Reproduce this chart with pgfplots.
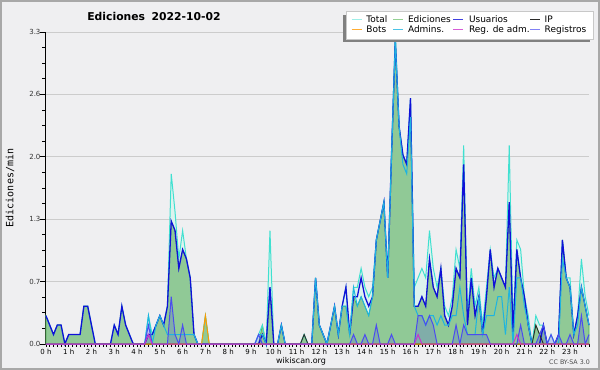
\documentclass[border=0pt]{standalone}
\usepackage{pgfplots}
\pgfplotsset{compat=1.18}
\usepackage{pgfplotstable}
\usepackage{fontspec}
\setmainfont{DejaVu Sans}
\newfontfamily\monofont{DejaVu Sans Mono}
\definecolor{bg}{HTML}{EFEFF1}
\definecolor{frame}{HTML}{A8A8A8}
\definecolor{gridc}{HTML}{CCCCCC}
\definecolor{tot}{HTML}{40E0D0}
\definecolor{totfill}{HTML}{DDF3EE}
\definecolor{edfill}{HTML}{90C996}
\definecolor{edline}{HTML}{4DB34D}
\definecolor{usr}{HTML}{1010D8}
\definecolor{ipc}{HTML}{2A2A2A}
\definecolor{bot}{HTML}{FF9900}
\definecolor{adm}{HTML}{1EB4E0}
\definecolor{radm}{HTML}{CC33CC}
\definecolor{reg}{HTML}{4B4BF0}
\definecolor{shadowc}{HTML}{808080}
\definecolor{legborder}{HTML}{C8C8C8}

\pgfplotstableread{
x T E U A R I B M
0 0.3 0.3 0.3 0 0 0 0 0
1 0.2 0.2 0.2 0 0 0 0 0
2 0.1 0.1 0.1 0 0 0 0 0
3 0.2 0.2 0.2 0 0 0 0 0
4 0.2 0.2 0.2 0 0 0 0 0
5 0 0 0 0 0 0 0 0
6 0.1 0.1 0.1 0 0 0 0 0
7 0.1 0.1 0.1 0 0 0 0 0
8 0.1 0.1 0.1 0 0 0 0 0
9 0.1 0.1 0.1 0 0 0 0 0
10 0.4 0.4 0.4 0 0 0 0 0
11 0.4 0.4 0.4 0 0 0 0 0
12 0.2 0.2 0.2 0 0 0 0 0
13 0 0 0 0 0 0 0 0
14 0 0 0 0 0 0 0 0
15 0 0 0 0 0 0 0 0
16 0 0 0 0 0 0 0 0
17 0 0 0 0 0 0 0 0
18 0.2 0.2 0.2 0 0 0 0 0
19 0.1 0.1 0.1 0 0 0 0 0
20 0.4 0.4 0.4 0 0 0 0 0
21 0.2 0.2 0.2 0 0 0 0 0
22 0.1 0.1 0.1 0 0 0 0 0
23 0 0 0 0 0 0 0 0
24 0 0 0 0 0 0 0 0
25 0 0 0 0 0 0 0 0
26 0 0 0 0 0 0 0 0
27 0.3 0.1 0.1 0.3 0.2 0 0 0.1
28 0.1 0.1 0.1 0 0 0 0 0
29 0.2 0.2 0.2 0.2 0 0 0 0
30 0.3 0.3 0.3 0.3 0 0 0 0
31 0.2 0.2 0.2 0.2 0 0 0 0
32 0.4 0.4 0.4 0.1 0 0 0 0
33 1.8 1.3 1.3 0.1 0.5 0 0 0
34 1.4 1.2 1.2 0.1 0.1 0 0 0
35 0.9 0.8 0.8 0.1 0 0 0 0
36 1.2 1.0 1.0 0.1 0.2 0 0 0
37 0.9 0.9 0.9 0.1 0 0 0 0
38 0.7 0.7 0.7 0.1 0 0 0 0
39 0.1 0.1 0.1 0.1 0 0 0 0
40 0 0 0 0 0 0 0 0
41 0 0 0 0 0 0 0 0
42 0.3 0.3 0 0 0 0 0.3 0
43 0 0 0 0 0 0 0 0
44 0 0 0 0 0 0 0 0
45 0 0 0 0 0 0 0 0
46 0 0 0 0 0 0 0 0
47 0 0 0 0 0 0 0 0
48 0 0 0 0 0 0 0 0
49 0 0 0 0 0 0 0 0
50 0 0 0 0 0 0 0 0
51 0 0 0 0 0 0 0 0
52 0 0 0 0 0 0 0 0
53 0 0 0 0 0 0 0 0
54 0 0 0 0 0 0 0 0
55 0 0 0 0 0 0 0 0
56 0.1 0 0 0.1 0.1 0 0 0
57 0.2 0.2 0.1 0.1 0 0 0 0
58 0 0 0 0 0 0 0 0
59 1.2 0.6 0.6 0 0 0 0 0
60 0 0 0 0 0 0 0 0
61 0 0 0 0 0 0 0 0
62 0.2 0.2 0.2 0.2 0 0 0 0
63 0 0 0 0 0 0 0 0
64 0 0 0 0 0 0 0 0
65 0 0 0 0 0 0 0 0
66 0 0 0 0 0 0 0 0
67 0 0 0 0 0 0 0 0
68 0.1 0.1 0 0 0 0.1 0 0
69 0 0 0 0 0 0 0 0
70 0 0 0 0 0 0 0 0
71 0.7 0.7 0.7 0.7 0 0 0 0
72 0.2 0.2 0.2 0.2 0 0 0 0
73 0.1 0.1 0.1 0.1 0 0 0 0
74 0 0 0 0 0 0 0 0
75 0.2 0.2 0.2 0.2 0 0 0 0
76 0.4 0.4 0.4 0.4 0 0 0 0
77 0.1 0.1 0.1 0.1 0 0 0 0
78 0.4 0.4 0.4 0.4 0 0 0 0
79 0.6 0.4 0.6 0.4 0 0 0 0
80 0.1 0.1 0.1 0.1 0 0 0 0
81 0.6 0.5 0.5 0.6 0.1 0 0 0
82 0.6 0.4 0.5 0.4 0 0 0 0
83 0.8 0.5 0.7 0.5 0 0 0 0
84 0.6 0.4 0.5 0.4 0.1 0 0 0
85 0.5 0.3 0.4 0.3 0 0 0 0
86 0.6 0.5 0.5 0.5 0 0 0 0
87 1.1 1.1 1.1 1.1 0.2 0 0 0
88 1.3 1.3 1.3 1.3 0 0 0 0
89 1.5 1.5 1.5 1.5 0 0 0 0
90 0.7 0.7 0.7 0.7 0 0 0 0
91 2.0 2.0 2.0 2.0 0.1 0 0 0
92 3.3 3.2 3.2 3.2 0 0 0 0
93 2.3 2.3 2.3 2.3 0 0 0 0
94 2.0 2.0 2.0 1.9 0 0 0 0
95 1.9 1.9 1.9 1.8 0 0 0 0
96 2.6 2.4 2.6 2.4 0 0 0 0
97 0.6 0.4 0.4 0.4 0 0 0 0
98 0.7 0.4 0.4 0.3 0.3 0 0 0.1
99 0.8 0.5 0.5 0.3 0.3 0 0 0
100 0.7 0.4 0.4 0.2 0.2 0 0 0
101 1.2 0.9 0.9 0.3 0.3 0 0 0
102 0.8 0.6 0.6 0.3 0.2 0 0 0
103 0.6 0.5 0.5 0.2 0 0 0 0
104 0.8 0.8 0.8 0.3 0 0 0 0
105 0.4 0.3 0.3 0.2 0 0 0 0
106 0.3 0.2 0.2 0.2 0 0 0 0
107 0.5 0.4 0.4 0.3 0 0 0 0
108 1.0 0.8 0.8 0.3 0.2 0 0 0
109 0.8 0.7 0.7 0.6 0 0 0 0
110 2.1 1.9 1.9 0.3 0.2 0 0 0
111 0.3 0.2 0.2 0.1 0.1 0 0 0
112 0.8 0.7 0.7 0.1 0.1 0 0 0
113 0.4 0.3 0.3 0.1 0.1 0 0 0
114 0.6 0.5 0.5 0.5 0.1 0 0 0
115 0.2 0.1 0.1 0.1 0.1 0 0 0
116 0.6 0.5 0.5 0.3 0.1 0 0 0
117 1.0 1.0 1.0 0.3 0 0 0 0
118 0.7 0.6 0.6 0.3 0 0 0 0
119 0.8 0.8 0.8 0.5 0 0 0 0
120 0.7 0.7 0.7 0.5 0 0 0 0
121 0.6 0.6 0.6 0.1 0 0 0 0
122 2.1 1.5 1.5 0.6 0 0 0 0
123 0.2 0.1 0.1 0 0 0 0 0
124 1.1 1.0 1.0 0.7 0 0 0 0.1
125 1.0 0.7 0.7 0.7 0.2 0 0 0
126 0.5 0.5 0.5 0.4 0 0 0 0
127 0.3 0.2 0.2 0.2 0 0 0 0
128 0 0 0 0 0 0 0 0
129 0.3 0.2 0 0 0 0.2 0 0
130 0.2 0.1 0 0 0.1 0.1 0 0
131 0.2 0.2 0.2 0 0.2 0 0 0
132 0 0 0 0 0 0 0 0
133 0.1 0 0 0 0.1 0 0 0
134 0 0 0 0 0 0 0 0
135 0.1 0.1 0.1 0 0.1 0 0 0
136 1.1 1.1 1.1 0.9 0 0 0 0
137 0.7 0.7 0.7 0.7 0 0 0 0
138 0.7 0.6 0.6 0.6 0.1 0 0 0
139 0.1 0.1 0.1 0.1 0 0 0 0
140 0.3 0.3 0.3 0.2 0 0 0 0
141 0.9 0.6 0.6 0.6 0.3 0 0 0
142 0.5 0.4 0.4 0.4 0 0 0 0
143 0.3 0.2 0.2 0.2 0.1 0 0 0
}\data

\begin{document}
\begin{tikzpicture}
\fill[bg] (0bp,0bp) rectangle (600bp,370bp);
\draw[frame, line width=2bp] (1bp,1bp) rectangle (599bp,369bp);
\useasboundingbox (0bp,0bp) rectangle (600bp,370bp);
\node[font=\bfseries\fontsize{10.8bp}{13bp}\selectfont] at (154bp,354bp) {Ediciones\hspace{0.6em}2022-10-02};
\node[rotate=90, font=\monofont\fontsize{10bp}{12bp}\selectfont] at (10bp,182bp) {Ediciones/min};
\node[font=\fontsize{8bp}{9bp}\selectfont] at (301bp,9bp) {wikiscan.org};
\node[anchor=east, text=black!70, font=\fontsize{6.3bp}{7bp}\selectfont, inner sep=0pt] at (590bp,8bp) {CC BY-SA 3.0};
\begin{axis}[
  at={(45.9bp,26bp)}, anchor=south west,
  scale only axis, width=543.1bp, height=312bp,
  xmin=0, xmax=143, ymin=0, ymax=3.3,
  clip=false, no markers,
  axis x line*=bottom, axis y line*=left,
  axis line style={black, line width=1bp},
  xtick={0,6,...,138},
  xticklabels={0 h,1 h,2 h,3 h,4 h,5 h,6 h,7 h,8 h,9 h,10 h,11 h,12 h,13 h,14 h,15 h,16 h,17 h,18 h,19 h,20 h,21 h,22 h,23 h},
  minor xtick={0,1,...,143},
  ytick={0,0.66,1.32,1.98,2.64,3.3},
  yticklabels={0.0,0.7,1.3,2.0,2.6,3.3},
  minor y tick num=3,
  tick align=outside,
  xtick style={draw=black, line width=0.7bp, /pgfplots/major tick length=3bp, /pgfplots/minor tick length=3bp},
  ytick style={draw=black, line width=0.8bp, /pgfplots/major tick length=6bp, /pgfplots/minor tick length=3.5bp},
  xticklabel style={font=\fontsize{7bp}{8bp}\selectfont, inner sep=0.5bp},
  yticklabel style={font=\fontsize{7bp}{8bp}\selectfont, inner xsep=1bp, text=black!80},
  ymajorgrids, major grid style={gridc, line width=0.8bp},
]
\addplot[draw=none, fill=totfill] table[x=x,y=T]{\data} \closedcycle;
\addplot[draw=edline, line width=0.7bp, fill=edfill] table[x=x,y=E]{\data} \closedcycle;
\addplot[draw=none, fill=reg, fill opacity=0.22] table[x=x,y=R]{\data} \closedcycle;
\addplot[tot, line width=1bp] table[x=x,y=T]{\data};
\addplot[usr, line width=1.3bp] table[x=x,y=U]{\data};
\addplot[adm, line width=1bp] table[x=x,y=A]{\data};
\addplot[ipc, line width=0.9bp] table[x=x,y=I]{\data};
\addplot[bot, line width=1bp] table[x=x,y=B]{\data};
\addplot[reg, line width=1bp] table[x=x,y=R]{\data};
\addplot[radm, line width=1bp] table[x=x,y=M]{\data};
\end{axis}
% legend
\fill[shadowc] (343bp,327.7bp) rectangle (589.5bp,355.3bp);
\filldraw[fill=white, draw=legborder, line width=0.8bp] (346.7bp,330.7bp) rectangle (593.3bp,358.3bp);
\begin{scope}[line width=0.8bp]
\draw[tot!50] (351.7bp,351bp) -- (361.7bp,351bp);
\draw[edline!60] (393.3bp,351bp) -- (403.3bp,351bp);
\draw[usr!80] (453.3bp,351bp) -- (463.3bp,351bp);
\draw[ipc] (530bp,351bp) -- (540bp,351bp);
\draw[bot!80] (351.7bp,341bp) -- (361.7bp,341bp);
\draw[adm!80] (393.3bp,341bp) -- (403.3bp,341bp);
\draw[radm!80] (453.3bp,341bp) -- (463.3bp,341bp);
\draw[reg!70] (530bp,341bp) -- (540bp,341bp);
\end{scope}
\begin{scope}[every node/.style={anchor=base west, inner sep=0pt, font=\fontsize{9bp}{10bp}\selectfont}]
\node at (366.2bp,347.6bp) {Total};
\node at (407.8bp,347.6bp) {Ediciones};
\node at (468.8bp,347.6bp) {Usuarios};
\node at (544.5bp,347.6bp) {IP};
\node at (366.2bp,337.6bp) {Bots};
\node at (407.8bp,337.6bp) {Admins.};
\node at (468.8bp,337.6bp) {Reg. de adm.};
\node at (544.5bp,337.6bp) {Registros};
\end{scope}
\end{tikzpicture}
\end{document}
